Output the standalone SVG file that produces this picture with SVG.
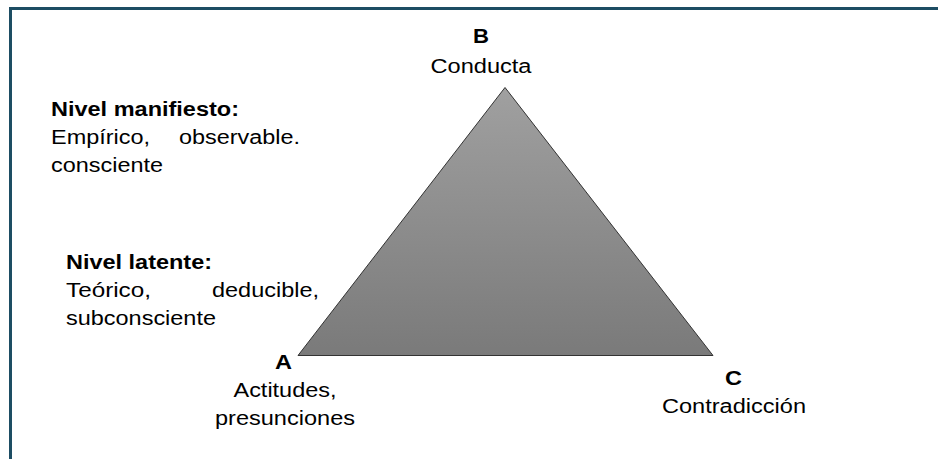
<svg xmlns="http://www.w3.org/2000/svg" width="938" height="459" viewBox="0 0 938 459">
  <defs>
    <linearGradient id="triGrad" x1="0" y1="0" x2="0" y2="1">
      <stop offset="0" stop-color="#a0a0a0"/>
      <stop offset="1" stop-color="#7a7a7a"/>
    </linearGradient>
    <style>
      .t { font-family: "Liberation Sans", Arial, sans-serif; font-size: 20px; fill: #000; }
      .b { font-weight: bold; }
      .frame { stroke: #1d4d63; stroke-width: 3; fill: none; }
    </style>
  </defs>
  <rect x="0" y="0" width="938" height="459" fill="#ffffff"/>
  <g id="frame">
    <path class="frame" d="M10.5 459 V8.5 H938"/>
  </g>
  <g id="connectors"></g>
  <g id="triangle">
    <polygon points="505,87.5 298,355.5 713,355.5" fill="url(#triGrad)" stroke="#333333" stroke-width="1"/>
  </g>
  <g id="node-manifiesto">
    <text class="t b" x="51" y="116" textLength="188" lengthAdjust="spacingAndGlyphs">Nivel manifiesto:</text>
    <text class="t" x="51" y="144" textLength="99" lengthAdjust="spacingAndGlyphs">Empírico,</text>
    <text class="t" x="300" y="144" text-anchor="end" textLength="121" lengthAdjust="spacingAndGlyphs">observable.</text>
    <text class="t" x="51" y="172" textLength="112" lengthAdjust="spacingAndGlyphs">consciente</text>
  </g>
  <g id="node-latente">
    <text class="t b" x="66" y="269" textLength="146" lengthAdjust="spacingAndGlyphs">Nivel latente:</text>
    <text class="t" x="66" y="297" textLength="85" lengthAdjust="spacingAndGlyphs">Teórico,</text>
    <text class="t" x="319" y="297" text-anchor="end" textLength="107" lengthAdjust="spacingAndGlyphs">deducible,</text>
    <text class="t" x="66" y="325" textLength="150" lengthAdjust="spacingAndGlyphs">subconsciente</text>
  </g>
  <g id="node-B">
    <text class="t b" x="481" y="43" text-anchor="middle" textLength="16" lengthAdjust="spacingAndGlyphs">B</text>
    <text class="t" x="481" y="73" text-anchor="middle" textLength="101" lengthAdjust="spacingAndGlyphs">Conducta</text>
  </g>
  <g id="node-A">
    <text class="t b" x="283.5" y="369" text-anchor="middle" textLength="17" lengthAdjust="spacingAndGlyphs">A</text>
    <text class="t" x="285" y="397" text-anchor="middle" textLength="103" lengthAdjust="spacingAndGlyphs">Actitudes,</text>
    <text class="t" x="285" y="425" text-anchor="middle" textLength="140" lengthAdjust="spacingAndGlyphs">presunciones</text>
  </g>
  <g id="node-C">
    <text class="t b" x="733.5" y="385" text-anchor="middle" textLength="17" lengthAdjust="spacingAndGlyphs">C</text>
    <text class="t" x="734" y="413" text-anchor="middle" textLength="144" lengthAdjust="spacingAndGlyphs">Contradicción</text>
  </g>
</svg>
